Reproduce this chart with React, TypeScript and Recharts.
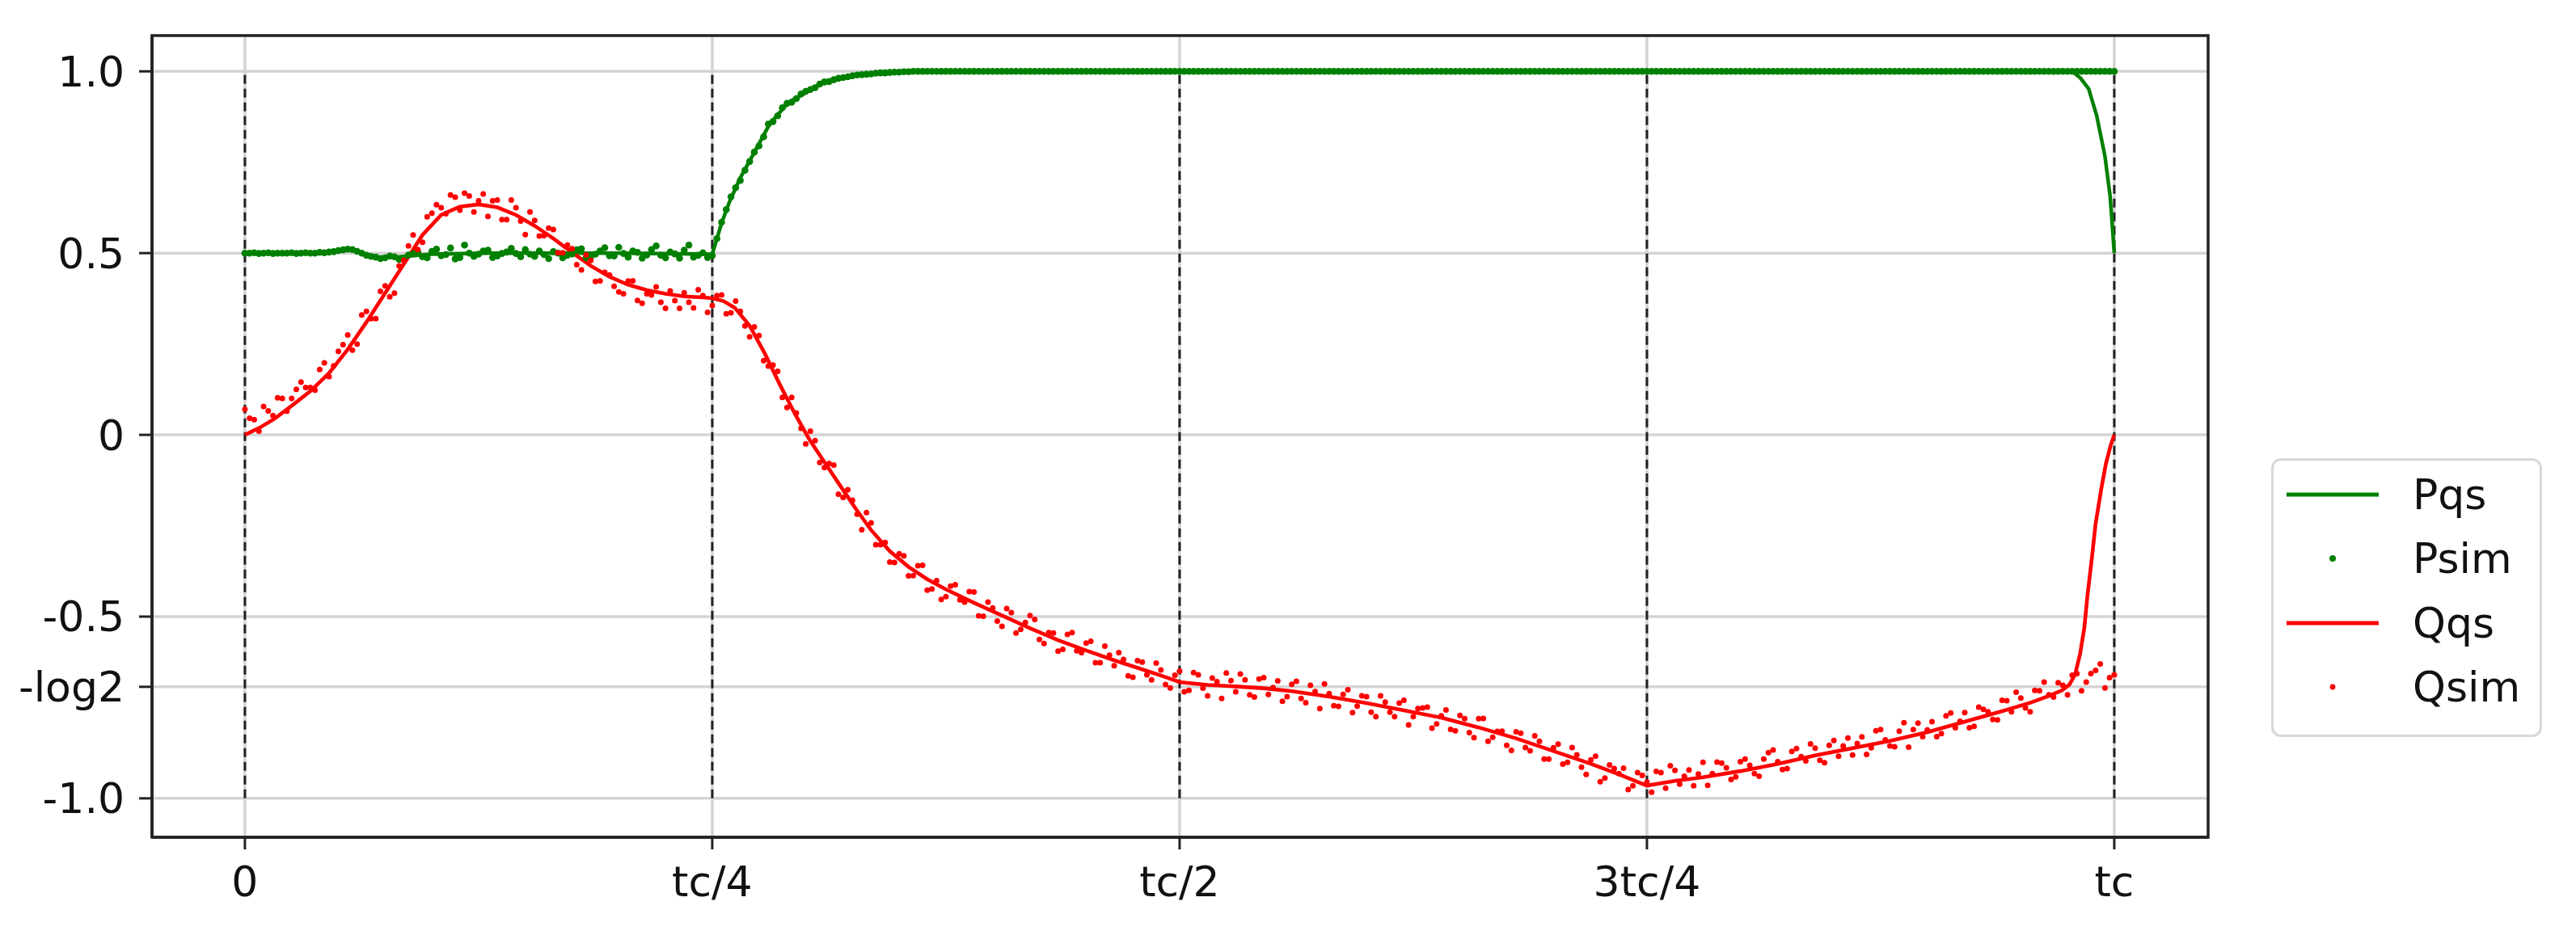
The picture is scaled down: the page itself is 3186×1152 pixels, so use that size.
import React from 'react';
import {
  ComposedChart,
  Line,
  Scatter,
  XAxis,
  YAxis,
  CartesianGrid,
  ReferenceLine,
  ReferenceArea,
  Legend,
} from 'recharts';

// ---------- tick positions & labels ----------
const X_TICKS = [0, 0.25, 0.5, 0.75, 1];
const X_TICK_LABELS = ['0', 'tc/4', 'tc/2', '3tc/4', 'tc'];
const Y_TICKS = [-1, -Math.LN2, -0.5, 0, 0.5, 1];
const Y_TICK_LABELS = ['-1.0', '-log2', '-0.5', '0', '0.5', '1.0'];

// ---------- Pqs (quasi-static P, line) ----------
const PQS_T = [
  0, 0.045, 0.05, 0.055, 0.06, 0.065, 0.07, 0.08, 0.09, 0.1, 0.13, 0.2, 0.25,
  0.2549, 0.2592, 0.265, 0.2722, 0.2808, 0.2909, 0.301, 0.3096, 0.3268, 0.348,
  0.37, 0.5, 0.75, 0.9776, 0.982, 0.9863, 0.9906, 0.995, 0.9978, 1,
];
const PQS_V = [
  0.5, 0.501, 0.505, 0.511, 0.506, 0.496, 0.49, 0.489, 0.493, 0.497, 0.5, 0.5, 0.497,
  0.581, 0.641, 0.707, 0.774, 0.856, 0.915, 0.944, 0.97, 0.989, 0.998,
  1, 1, 1, 1, 0.981, 0.952, 0.878, 0.767, 0.656, 0.5,
];

// ---------- Qqs (quasi-static Q, line) ----------
const QQS_T = [
  0, 0.008, 0.016, 0.025, 0.035, 0.045, 0.055, 0.065, 0.075, 0.085, 0.095, 0.105,
  0.115, 0.125, 0.135, 0.145, 0.155, 0.165, 0.175, 0.185, 0.195, 0.205, 0.215,
  0.225, 0.235, 0.245, 0.25, 0.256, 0.262, 0.27, 0.278, 0.286, 0.294, 0.302, 0.31,
  0.319, 0.327, 0.335, 0.345, 0.355, 0.365, 0.375, 0.39, 0.405, 0.42, 0.435, 0.45,
  0.465, 0.48, 0.49, 0.5, 0.515, 0.53, 0.545, 0.56, 0.58, 0.6, 0.62, 0.64, 0.66,
  0.68, 0.7, 0.72, 0.735, 0.75, 0.765, 0.78, 0.8, 0.82, 0.84, 0.86, 0.88, 0.9,
  0.92, 0.94, 0.955, 0.965, 0.972, 0.976, 0.979, 0.9817, 0.984, 0.9857, 0.988,
  0.99, 0.993, 0.9955, 0.998, 1,
];
const QQS_V = [
  0, 0.02, 0.045, 0.08, 0.12, 0.17, 0.235, 0.31, 0.39, 0.47, 0.55, 0.605,
  0.628, 0.634, 0.626, 0.605, 0.575, 0.54, 0.502, 0.465, 0.435, 0.413, 0.398,
  0.388, 0.381, 0.378, 0.376, 0.368, 0.35, 0.3, 0.225, 0.14, 0.06, -0.013, -0.075,
  -0.144, -0.205, -0.262, -0.32, -0.363, -0.397, -0.425, -0.462, -0.497, -0.532, -0.565, -0.593,
  -0.62, -0.645, -0.662, -0.68, -0.688, -0.692, -0.697, -0.705, -0.72, -0.738, -0.758, -0.778, -0.805,
  -0.835, -0.87, -0.905, -0.934, -0.965, -0.952, -0.942, -0.925, -0.905, -0.882, -0.862, -0.842, -0.818,
  -0.789, -0.76, -0.737, -0.718, -0.703, -0.687, -0.66, -0.603, -0.53, -0.44, -0.34,
  -0.245, -0.15, -0.08, -0.03, 0,
];

// ---------- simulated samples ----------
// set A: t = i * SIM_STEP (i = 0..200); set B: t = SIM_OFFSET + i * SIM_STEP (i = 0..199)
const SIM_STEP = 0.005;
const SIM_OFFSET = 0.0025;

const PSIM_A = [
  0.5, 0.501, 0.5, 0.499, 0.5, 0.501, 0.5, 0.5, 0.502, 0.503,
  0.507, 0.511, 0.505, 0.494, 0.489, 0.487, 0.49, 0.486, 0.498, 0.49,
  0.505, 0.493, 0.514, 0.488, 0.5, 0.497, 0.508, 0.492, 0.503, 0.499,
  0.51, 0.491, 0.496, 0.504, 0.487, 0.498, 0.512, 0.49, 0.506, 0.493,
  0.516, 0.489, 0.502, 0.495, 0.52, 0.487, 0.498, 0.508, 0.489, 0.501,
  0.493, 0.585, 0.655, 0.7, 0.752, 0.795, 0.855, 0.878, 0.912, 0.925,
  0.945, 0.955, 0.971, 0.977, 0.983, 0.988, 0.991, 0.993, 0.996, 0.997,
  0.998, 0.999, 1, 1, 1, 1, 1, 1, 1, 1,
  1, 1, 1, 1, 1, 1, 1, 1, 1, 1,
  1, 1, 1, 1, 1, 1, 1, 1, 1, 1,
  1, 1, 1, 1, 1, 1, 1, 1, 1, 1,
  1, 1, 1, 1, 1, 1, 1, 1, 1, 1,
  1, 1, 1, 1, 1, 1, 1, 1, 1, 1,
  1, 1, 1, 1, 1, 1, 1, 1, 1, 1,
  1, 1, 1, 1, 1, 1, 1, 1, 1, 1,
  1, 1, 1, 1, 1, 1, 1, 1, 1, 1,
  1, 1, 1, 1, 1, 1, 1, 1, 1, 1,
  1, 1, 1, 1, 1, 1, 1, 1, 1, 1,
  1, 1, 1, 1, 1, 1, 1, 1, 1, 1,
  1, 1, 1, 1, 1, 1, 1, 1, 1, 1,
  1,
];
const PSIM_B = [
  0.5, 0.499, 0.501, 0.5, 0.5, 0.499, 0.501, 0.5, 0.501, 0.504,
  0.509, 0.51, 0.5, 0.491, 0.485, 0.492, 0.483, 0.495, 0.503, 0.487,
  0.511, 0.496, 0.484, 0.522, 0.491, 0.506, 0.488, 0.499, 0.513, 0.49,
  0.497, 0.506, 0.485, 0.5, 0.494, 0.509, 0.487, 0.497, 0.515, 0.492,
  0.499, 0.506, 0.486, 0.51, 0.494, 0.503, 0.486, 0.522, 0.494, 0.488,
  0.54, 0.62, 0.68, 0.728, 0.778, 0.82, 0.862, 0.9, 0.915, 0.938,
  0.95, 0.965, 0.972, 0.981, 0.985, 0.99, 0.992, 0.995, 0.996, 0.998,
  0.999, 1, 1, 1, 1, 1, 1, 1, 1, 1,
  1, 1, 1, 1, 1, 1, 1, 1, 1, 1,
  1, 1, 1, 1, 1, 1, 1, 1, 1, 1,
  1, 1, 1, 1, 1, 1, 1, 1, 1, 1,
  1, 1, 1, 1, 1, 1, 1, 1, 1, 1,
  1, 1, 1, 1, 1, 1, 1, 1, 1, 1,
  1, 1, 1, 1, 1, 1, 1, 1, 1, 1,
  1, 1, 1, 1, 1, 1, 1, 1, 1, 1,
  1, 1, 1, 1, 1, 1, 1, 1, 1, 1,
  1, 1, 1, 1, 1, 1, 1, 1, 1, 1,
  1, 1, 1, 1, 1, 1, 1, 1, 1, 1,
  1, 1, 1, 1, 1, 1, 1, 1, 1, 1,
  1, 1, 1, 1, 1, 1, 1, 1, 1, 1,
];
const QSIM_A = [
  0.07, 0.042, 0.078, 0.053, 0.1, 0.1, 0.145, 0.13, 0.18, 0.16,
  0.23, 0.275, 0.25, 0.34, 0.32, 0.41, 0.39, 0.48, 0.55, 0.53,
  0.61, 0.625, 0.66, 0.618, 0.657, 0.644, 0.601, 0.646, 0.592, 0.625,
  0.551, 0.59, 0.548, 0.565, 0.501, 0.512, 0.454, 0.48, 0.424, 0.44,
  0.393, 0.423, 0.37, 0.388, 0.407, 0.348, 0.369, 0.391, 0.349, 0.383,
  0.356, 0.385, 0.336, 0.34, 0.27, 0.273, 0.189, 0.175, 0.075, 0.06,
  -0.025, -0.016, -0.09, -0.083, -0.172, -0.18, -0.261, -0.242, -0.302, -0.35,
  -0.327, -0.388, -0.36, -0.427, -0.401, -0.445, -0.412, -0.46, -0.432, -0.499,
  -0.476, -0.527, -0.489, -0.535, -0.497, -0.563, -0.544, -0.595, -0.549, -0.594,
  -0.573, -0.627, -0.581, -0.635, -0.618, -0.667, -0.625, -0.674, -0.647, -0.696,
  -0.65, -0.703, -0.66, -0.718, -0.679, -0.655, -0.707, -0.674, -0.721, -0.668,
  -0.695, -0.733, -0.686, -0.725, -0.689, -0.753, -0.712, -0.747, -0.701, -0.746,
  -0.72, -0.775, -0.735, -0.775, -0.73, -0.775, -0.751, -0.807, -0.773, -0.81,
  -0.772, -0.819, -0.781, -0.843, -0.816, -0.854, -0.817, -0.86, -0.828, -0.892,
  -0.861, -0.906, -0.86, -0.914, -0.894, -0.954, -0.908, -0.932, -0.976, -0.929,
  -0.955, -0.926, -0.972, -0.923, -0.939, -0.965, -0.901, -0.932, -0.903, -0.948,
  -0.899, -0.909, -0.939, -0.874, -0.899, -0.918, -0.863, -0.897, -0.862, -0.902,
  -0.841, -0.856, -0.881, -0.831, -0.861, -0.811, -0.856, -0.815, -0.859, -0.793,
  -0.812, -0.83, -0.773, -0.806, -0.764, -0.802, -0.755, -0.783, -0.73, -0.762,
  -0.724, -0.762, -0.704, -0.715, -0.682, -0.715, -0.657, -0.68, -0.648, -0.696,
  -0.66,
];
const QSIM_B = [
  0.046, 0.01, 0.066, 0.102, 0.065, 0.125, 0.13, 0.123, 0.198, 0.19,
  0.248, 0.233, 0.33, 0.32, 0.395, 0.38, 0.465, 0.52, 0.51, 0.6,
  0.633, 0.608, 0.654, 0.665, 0.613, 0.663, 0.644, 0.592, 0.646, 0.588,
  0.613, 0.547, 0.569, 0.501, 0.522, 0.468, 0.495, 0.422, 0.447, 0.409,
  0.388, 0.424, 0.362, 0.385, 0.365, 0.396, 0.348, 0.365, 0.399, 0.337,
  0.383, 0.333, 0.368, 0.3, 0.297, 0.204, 0.192, 0.103, 0.103, 0.018,
  0.01, -0.076, -0.079, -0.163, -0.151, -0.218, -0.214, -0.302, -0.296, -0.351,
  -0.333, -0.387, -0.359, -0.424, -0.453, -0.416, -0.454, -0.431, -0.498, -0.46,
  -0.512, -0.478, -0.545, -0.516, -0.508, -0.574, -0.545, -0.59, -0.544, -0.599,
  -0.568, -0.627, -0.606, -0.599, -0.663, -0.621, -0.66, -0.628, -0.687, -0.661,
  -0.707, -0.654, -0.697, -0.669, -0.725, -0.676, -0.658, -0.715, -0.672, -0.714,
  -0.677, -0.72, -0.678, -0.737, -0.706, -0.685, -0.745, -0.714, -0.764, -0.718,
  -0.763, -0.718, -0.763, -0.738, -0.798, -0.753, -0.749, -0.795, -0.757, -0.814,
  -0.781, -0.833, -0.78, -0.832, -0.815, -0.868, -0.821, -0.869, -0.843, -0.892,
  -0.851, -0.901, -0.88, -0.934, -0.884, -0.944, -0.918, -0.917, -0.965, -0.937,
  -0.983, -0.929, -0.91, -0.961, -0.922, -0.933, -0.964, -0.9, -0.916, -0.941,
  -0.892, -0.932, -0.892, -0.867, -0.921, -0.871, -0.885, -0.85, -0.895, -0.854,
  -0.884, -0.834, -0.849, -0.879, -0.814, -0.839, -0.858, -0.792, -0.811, -0.83,
  -0.789, -0.822, -0.765, -0.788, -0.806, -0.749, -0.762, -0.784, -0.731, -0.708,
  -0.751, -0.703, -0.68, -0.721, -0.689, -0.661, -0.704, -0.657, -0.63, -0.668,
];

// ---------- legend entries ----------
const LEGEND_NAMES = ['Pqs', 'Psim', 'Qqs', 'Qsim'];
const LEGEND_KINDS = ['line', 'dot', 'line', 'dot'];
const LEGEND_COLORS = ['#008000', '#008000', '#ff0000', '#ff0000'];

// ---------- derived tables ----------
const pqsData = PQS_T.map((t, i) => ({ t, v: PQS_V[i] }));
const qqsData = QQS_T.map((t, i) => ({ t, v: QQS_V[i] }));
const simRows = (a: number[], b: number[]) =>
  [
    ...a.map((v, i) => ({ t: +(i * SIM_STEP).toFixed(4), v })),
    ...b.map((v, i) => ({ t: +(SIM_OFFSET + i * SIM_STEP).toFixed(4), v })),
  ].sort((p, q) => p.t - q.t);
const psimData = simRows(PSIM_A, PSIM_B);
const qsimData = simRows(QSIM_A, QSIM_B);

const FONT = '"DejaVu Sans", Verdana, sans-serif';
const GREEN = '#008000';
const RED = '#ff0000';
const AXIS = '#222222';
const GRID = '#d4d4d4';

const X_DOMAIN: [number, number] = [-0.0497, 1.0502];
const Y_DOMAIN: [number, number] = [-1.107, 1.0985];

const fmtX = (v: number) => {
  const i = X_TICKS.findIndex((x) => Math.abs(x - v) < 1e-6);
  return i >= 0 ? X_TICK_LABELS[i] : '';
};
const fmtY = (v: number) => {
  const i = Y_TICKS.findIndex((y) => Math.abs(y - v) < 1e-6);
  return i >= 0 ? Y_TICK_LABELS[i] : '';
};

const dotShape = (r: number, color: string) => (props: any) => {
  const { cx, cy } = props;
  if (cx == null || cy == null) return <g />;
  return <circle cx={cx} cy={cy} r={r} fill={color} stroke="none" />;
};

const LegendBox = () => (
  <div
    style={{
      width: 335,
      height: 345,
      border: '3px solid #d8d8d8',
      borderRadius: 12,
      boxSizing: 'border-box',
      background: '#ffffff',
      position: 'relative',
      fontFamily: FONT,
      fontSize: 52,
      color: '#111111',
    }}
  >
    {LEGEND_NAMES.map((name, i) => {
      const cy = 42 + i * 79.3;
      return (
        <div
          key={name}
          style={{
            position: 'absolute',
            left: 0,
            top: cy - 40,
            height: 80,
            width: 330,
            display: 'flex',
            alignItems: 'center',
          }}
        >
          <svg width={172} height={80} style={{ flex: 'none' }}>
            {LEGEND_KINDS[i] === 'line' ? (
              <line x1={16} x2={130} y1={40} y2={40} stroke={LEGEND_COLORS[i]} strokeWidth={4.8} />
            ) : (
              <circle cx={73} cy={40} r={i === 1 ? 4 : 3.4} fill={LEGEND_COLORS[i]} />
            )}
          </svg>
          <span style={{ lineHeight: '80px', whiteSpace: 'nowrap' }}>{name}</span>
        </div>
      );
    })}
  </div>
);

export default function App() {
  return (
    <div style={{ width: 3178, height: 1144, background: '#ffffff' }}>
      <ComposedChart
        width={3178}
        height={1144}
        margin={{ top: 36, right: 455, bottom: 16, left: 0 }}
        style={{ fontFamily: FONT }}
      >
        <CartesianGrid
          stroke={GRID}
          strokeWidth={3.5}
          horizontalValues={Y_TICKS}
          verticalValues={X_TICKS}
        />
        <XAxis
          dataKey="t"
          type="number"
          domain={X_DOMAIN}
          allowDataOverflow
          ticks={X_TICKS}
          tickFormatter={fmtX}
          interval={0}
          height={100}
          tickSize={15}
          tickMargin={21}
          stroke={AXIS}
          axisLine={{ stroke: AXIS, strokeWidth: 3.5 }}
          tickLine={{ stroke: AXIS, strokeWidth: 3 }}
          tick={{ fill: '#111111', fontSize: 52, fontFamily: FONT }}
        />
        <YAxis
          type="number"
          domain={Y_DOMAIN}
          allowDataOverflow
          ticks={Y_TICKS}
          tickFormatter={fmtY}
          interval={0}
          width={180}
          tickSize={16}
          tickMargin={18}
          stroke={AXIS}
          axisLine={{ stroke: AXIS, strokeWidth: 3.5 }}
          tickLine={{ stroke: AXIS, strokeWidth: 3 }}
          tick={{ fill: '#111111', fontSize: 52, fontFamily: FONT }}
        />
        <ReferenceArea
          x1={X_DOMAIN[0]}
          x2={X_DOMAIN[1]}
          y1={Y_DOMAIN[0]}
          y2={Y_DOMAIN[1]}
          fill="none"
          fillOpacity={0}
          stroke={AXIS}
          strokeWidth={3.5}
          ifOverflow="visible"
        />
        {X_TICKS.map((x) => (
          <ReferenceLine
            key={'d' + x}
            segment={[
              { x, y: -1 },
              { x, y: 1 },
            ]}
            stroke={AXIS}
            strokeWidth={3}
            strokeDasharray="11 6"
            ifOverflow="visible"
          />
        ))}
        <Line
          data={pqsData}
          dataKey="v"
          name="Pqs"
          type="linear"
          stroke={GREEN}
          strokeWidth={4.5}
          dot={false}
          activeDot={false}
          isAnimationActive={false}
        />
        <Scatter
          data={psimData}
          dataKey="v"
          name="Psim"
          fill={GREEN}
          shape={dotShape(4.3, GREEN)}
          isAnimationActive={false}
        />
        <Line
          data={qqsData}
          dataKey="v"
          name="Qqs"
          type="linear"
          stroke={RED}
          strokeWidth={4.6}
          dot={false}
          activeDot={false}
          isAnimationActive={false}
        />
        <Scatter
          data={qsimData}
          dataKey="v"
          name="Qsim"
          fill={RED}
          shape={dotShape(3.5, RED)}
          isAnimationActive={false}
        />
        <Legend
          layout="vertical"
          align="center"
          verticalAlign="middle"
          content={() => <LegendBox />}
          wrapperStyle={{ left: 2801, top: 559, width: 335, height: 345 }}
        />
      </ComposedChart>
    </div>
  );
}
